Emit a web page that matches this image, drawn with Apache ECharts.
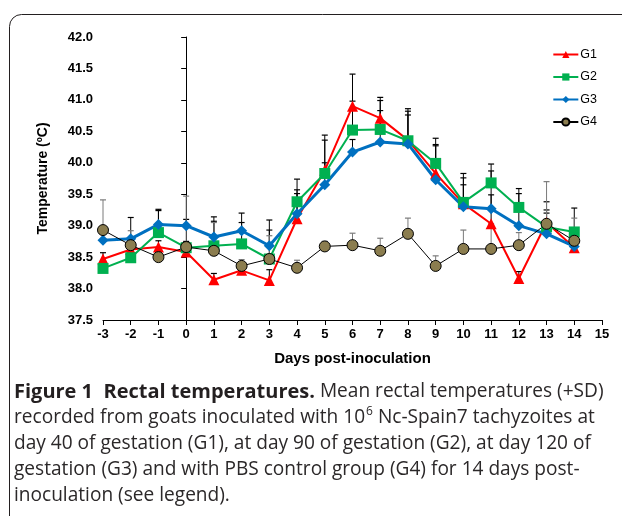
<!DOCTYPE html>
<html><head><meta charset="utf-8">
<script src="https://cdn.jsdelivr.net/npm/echarts@6/dist/echarts.min.js"></script>
<style>html,body{margin:0;padding:0;background:#fff}#c{width:622px;height:516px}</style>
</head><body><div id="c"></div>
<script>
const days = [-3,-2,-1,0,1,2,3,4,5,6,7,8,9,10,11,12,13,14];
const xTicks = [-3,-2,-1,0,1,2,3,4,5,6,7,8,9,10,11,12,13,14,15];
const yTicks = [37.5,38.0,38.5,39.0,39.5,40.0,40.5,41.0,41.5,42.0];
const g1 = [38.47,38.62,38.66,38.58,38.14,38.29,38.13,39.11,39.88,40.90,40.71,40.36,39.83,39.35,39.03,38.16,39.05,38.65];
const g2 = [38.32,38.49,38.89,38.65,38.68,38.71,38.47,39.38,39.83,40.52,40.53,40.35,39.99,39.37,39.68,39.29,38.98,38.90];
const g3 = [38.77,38.79,39.02,39.00,38.82,38.92,38.68,39.19,39.65,40.17,40.33,40.30,39.73,39.30,39.27,39.00,38.87,38.67];
const g4 = [38.93,38.69,38.50,38.66,38.60,38.36,38.47,38.33,38.67,38.69,38.60,38.87,38.36,38.63,38.63,38.69,39.03,38.76];
const g1sd = [0.10,0.15,0.10,0.15,0.10,0.10,0.17,0.40,0.56,0.51,0.33,0.50,0.46,0.48,0.46,0.11,0.33,0.20];
const g2sd = [0.10,0.10,0.35,0.10,0.39,0.34,0.46,0.36,0.53,0.46,0.46,0.47,0.40,0.39,0.30,0.30,0.27,0.38];
const g3sd = [0.15,0.34,0.24,0.10,0.32,0.28,0.41,0.38,0.35,0.20,0.50,0.46,0.54,0.35,0.60,0.51,0.33,0.20];
const g4sd = [0.48,0.23,0.10,0.81,0.45,0.10,0.37,0.12,0.08,0.19,0.20,0.25,0.16,0.30,0.40,0.20,0.67,0.36];

const ff = '"Liberation Sans", Arial, sans-serif';
function errData(v, sd){ return days.map((d,i)=>[d, v[i], +(v[i]+sd[i]).toFixed(2)]); }
function errRender(color){
  return function(params, api){
    const x = api.value(0), y = api.value(1), t = api.value(2);
    const p0 = api.coord([x,y]), p1 = api.coord([x,t]);
    const w = 3;
    return {type:'group', children:[
      {type:'line', shape:{x1:p0[0], y1:p0[1], x2:p1[0], y2:p1[1]}, style:{stroke:color, lineWidth:1}},
      {type:'line', shape:{x1:p1[0]-w, y1:p1[1], x2:p1[0]+w, y2:p1[1]}, style:{stroke:color, lineWidth:1.2}}
    ]};
  };
}
function errSeries(name, v, sd, color){
  return {type:'custom', name:name, data:errData(v,sd), renderItem:errRender(color), encode:{x:0, y:[1,2]}, z:1, silent:true};
}
function lineData(v){ return days.map((d,i)=>[d, v[i]]); }

const chart = echarts.init(document.getElementById('c'), null, {renderer:'canvas'});
chart.setOption({
  animation:false,
  backgroundColor:'#fff',
  grid:{left:103, right:20, top:37, bottom:196, containLabel:false},
  legend:{
    data:['G1','G2','G3','G4'], orient:'vertical', right:20, top:43,
    itemWidth:25, itemHeight:9, itemGap:9.5,
    textStyle:{fontFamily:ff, fontSize:12.5, color:'#000', padding:[0,0,0,-3]}
  },
  xAxis:{
    type:'value', min:-3, max:15, interval:1,
    name:'Days post-inoculation', nameLocation:'middle', nameGap:31,
    nameTextStyle:{fontFamily:ff, fontWeight:'bold', fontSize:15, color:'#000'},
    axisLine:{show:true, onZero:false, lineStyle:{color:'#000', width:1}},
    axisTick:{show:true, length:5, lineStyle:{color:'#000'}},
    axisLabel:{fontFamily:ff, fontWeight:'bold', fontSize:13, color:'#000', margin:8,
      formatter:function(v){ return xTicks.indexOf(v)>=0 ? String(v) : ''; }},
    splitLine:{show:false}
  },
  yAxis:{
    type:'value', min:37.5, max:42, interval:0.5,
    name:'Temperature (ºC)', nameLocation:'middle', nameGap:53,
    nameTextStyle:{fontFamily:ff, fontWeight:'bold', fontSize:14, color:'#000'},
    axisLine:{show:true, lineStyle:{color:'#000', width:1}},
    axisTick:{show:true, length:5, lineStyle:{color:'#000'}},
    axisLabel:{fontFamily:ff, fontWeight:'bold', fontSize:13, color:'#000', margin:10,
      formatter:function(v){ return yTicks.indexOf(v)>=0 ? v.toFixed(1) : ''; }},
    splitLine:{show:false}
  },
  graphic:[
    {type:'rect', shape:{x:9.5, y:14.5, width:700, height:600, r:12}, style:{fill:'none', stroke:'#231f20', lineWidth:1}, silent:true},
    {type:'text', left:14, top:379, silent:true, style:{
      text:'{b|Figure 1  Rectal temperatures.} Mean rectal temperatures (+SD)\nrecorded from goats inoculated with 10{sup|6} Nc-Spain7 tachyzoites at\nday 40 of gestation (G1), at day 90 of gestation (G2), at day 120 of\ngestation (G3) and with PBS control group (G4) for 14 days post-\ninoculation (see legend).',
      fontFamily:'"Open Sans", sans-serif', fontSize:19.1, lineHeight:26, fill:'#2b2829',
      rich:{
        b:{fontFamily:'"Open Sans", sans-serif', fontWeight:'bold', fontSize:20, lineHeight:26, fill:'#231f20'},
        sup:{fontFamily:'"Open Sans", sans-serif', fontSize:12, lineHeight:26, verticalAlign:'top', padding:[1,0,0,1], fill:'#2b2829'}
      }
    }}
  ],
  series:[
    errSeries('e1', g1, g1sd, '#000'),
    errSeries('e2', g2, g2sd, '#000'),
    errSeries('e3', g3, g3sd, '#000'),
    errSeries('e4', g4, g4sd, '#7a7a7a'),
    {type:'line', name:'G1', data:lineData(g1), symbol:'triangle', symbolSize:11,
      lineStyle:{color:'#ff0000', width:2}, itemStyle:{color:'#ff0000'}, z:3},
    {type:'line', name:'G2', data:lineData(g2), symbol:'rect', symbolSize:11,
      lineStyle:{color:'#00b050', width:2}, itemStyle:{color:'#00b050'}, z:3},
    {type:'line', name:'G3', data:lineData(g3), symbol:'diamond', symbolSize:11,
      lineStyle:{color:'#0070c0', width:3}, itemStyle:{color:'#0070c0'}, z:3},
    {type:'line', name:'G4', data:lineData(g4), symbol:'circle', symbolSize:11,
      lineStyle:{color:'#000', width:1}, itemStyle:{color:'#8b7d4f', borderColor:'#000', borderWidth:1}, z:3}
  ]
});
</script></body></html>
